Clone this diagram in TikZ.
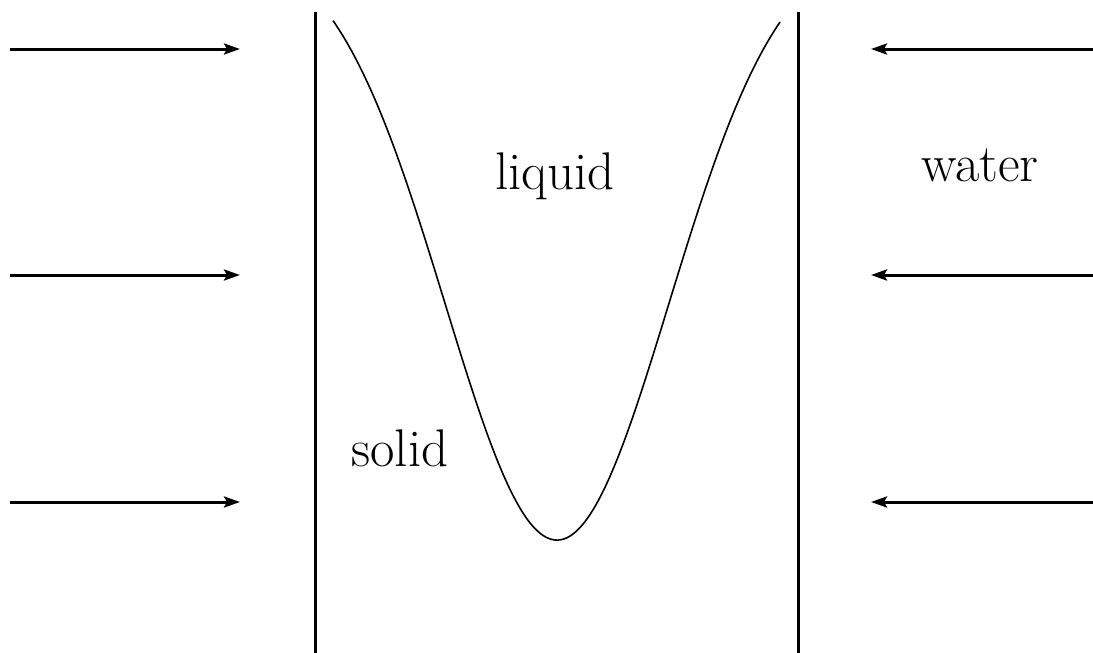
\documentclass[tikz,border=0pt]{standalone}
\usetikzlibrary{arrows.meta}
\begin{document}
\begin{tikzpicture}[x=1pt,y=-1pt,
  arr/.style={line width=3pt,-{Stealth[length=16pt,width=11pt,inset=3pt]}},
  wall/.style={line width=3pt},
  curve/.style={line width=1.6pt},
  lbl/.style={anchor=base,inner sep=0pt,font=\fontsize{53}{62}\selectfont}]
\useasboundingbox (0,0) rectangle (1093,653);
% arrows left
\coordinate (l1s) at (10,49);  \coordinate (l1e) at (240,49);
\coordinate (l2s) at (10,275); \coordinate (l2e) at (240,275);
\coordinate (l3s) at (10,502); \coordinate (l3e) at (240,502);
\draw[arr] (l1s) -- (l1e);
\draw[arr] (l2s) -- (l2e);
\draw[arr] (l3s) -- (l3e);
% arrows right
\coordinate (r1s) at (1093,49);  \coordinate (r1e) at (871,49);
\coordinate (r2s) at (1093,275); \coordinate (r2e) at (871,275);
\coordinate (r3s) at (1093,502); \coordinate (r3e) at (871,502);
\draw[arr] (r1s) -- (r1e);
\draw[arr] (r2s) -- (r2e);
\draw[arr] (r3s) -- (r3e);
% walls
\coordinate (w1t) at (315,12); \coordinate (w1b) at (315,653);
\coordinate (w2t) at (798,12); \coordinate (w2b) at (798,653);
\draw[wall] (w1t) -- (w1b);
\draw[wall] (w2t) -- (w2b);
% interface curve
\draw[curve] plot[domain=-224:223,samples=150,smooth] ({557+\x},{-60+600*exp(-(\x/100)*(\x/100)/2.5)});
% labels
\node[lbl] (liquid) at (555,189) {liquid};
\node[lbl] (solid) at (400,466) {solid};
\node[lbl] (water) at (980,181) {water};
\end{tikzpicture}
\end{document}
